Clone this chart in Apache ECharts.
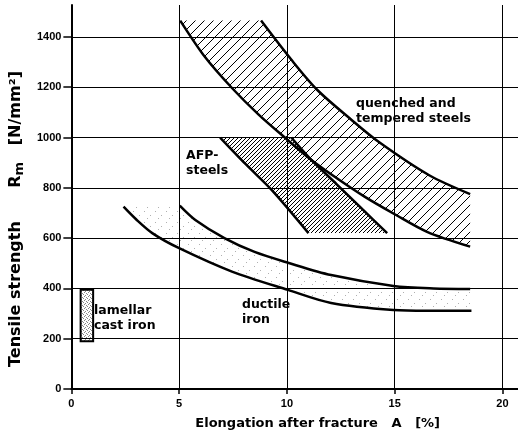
<!DOCTYPE html>
<html>
<head>
<meta charset="utf-8">
<script src="https://cdn.jsdelivr.net/npm/echarts@6/dist/echarts.min.js"></script>
<style>
    html, body { margin: 0; padding: 0; background: #fff; }
    #chart { width: 518px; height: 442px; }
</style>
</head>
<body>
<div id="chart"></div>
<script>
    // axis ticks and grid lines
    const xTicks = [0, 5, 10, 15, 20]
    const yTicks = [0, 200, 400, 600, 800, 1000, 1200, 1400]
    const xGrid = [5, 10, 15, 20]
    const yGrid = [200, 400, 600, 800, 1000, 1200, 1400]

    // quenched and tempered steels (band)
    const qtLower = [[5.05, 1465], [6.2, 1320], [7.45, 1197], [8.7, 1090], [9.9, 1000], [11.0, 920],
        [12.2, 845], [13.6, 765], [15.0, 695], [16.5, 625], [18.5, 566]]
    const qtUpper = [[8.8, 1465], [10.2, 1310], [11.4, 1190], [13.0, 1070], [14.3, 980], [16.6, 850], [18.5, 775]]

    // AFP steels (band)
    const afpLeft = [[6.9, 1000], [8.1, 893], [9.3, 791], [11.0, 620]]
    const afpRight = [[10.2, 1000], [11.2, 905], [12.3, 815], [13.5, 715], [14.65, 620]]

    // ductile iron (band)
    const diLower = [[2.42, 725], [3.0, 675], [3.77, 619], [5.0, 560], [7.45, 467], [10.05, 394],
        [12.05, 342], [14.94, 314], [16.5, 311], [18.56, 311]]
    const diUpper = [[5.03, 729], [5.75, 672], [7.1, 600], [8.5, 545], [10.05, 502], [12.05, 453],
        [14.94, 410], [16.8, 400], [18.5, 398]]

    // lamellar cast iron (box)
    const lamX = [0.43, 1.01]
    const lamY = [190, 395]

    const font = 'Liberation Sans, Arial, Helvetica, sans-serif'
    const wide = 'DejaVu Sans, Verdana, sans-serif'

    function hatch(step, lw) {
        let c = document.createElement('canvas')
        c.width = c.height = step
        let ctx = c.getContext('2d')
        ctx.strokeStyle = '#000'
        ctx.lineWidth = lw
        ctx.beginPath()
        ctx.moveTo(0, step); ctx.lineTo(step, 0)
        ctx.moveTo(-1, 1); ctx.lineTo(1, -1)
        ctx.moveTo(step - 1, step + 1); ctx.lineTo(step + 1, step - 1)
        ctx.stroke()
        return {image: c, repeat: 'repeat'}
    }

    function stipple(size, dots, color) {
        let c = document.createElement('canvas')
        c.width = c.height = size
        let ctx = c.getContext('2d')
        ctx.fillStyle = color
        dots.forEach(d => ctx.fillRect(d[0], d[1], 1, 1))
        return {image: c, repeat: 'repeat'}
    }

    function polySeries(name, points, fill) {
        return {
            name: name,
            type: 'custom',
            silent: true,
            z: 1,
            data: [[0, 0]],
            renderItem: (params, api) => ({
                type: 'polygon',
                shape: {points: points.map(p => api.coord(p))},
                style: {fill: fill, stroke: null}
            })
        }
    }

    function lineSeries(name, data) {
        return {
            name: name,
            type: 'line',
            data: data,
            showSymbol: false,
            smooth: 0.3,
            silent: true,
            z: 3,
            lineStyle: {color: '#000', width: 2.5},
        }
    }

    let chart = echarts.init(document.getElementById('chart'))
    let options = {
        animation: false,
        textStyle: {fontFamily: font},
        grid: {left: 68, right: 0, top: 5, bottom: 53},
        xAxis: {
            type: 'value',
            min: 0,
            max: 20.72,
            interval: 5,
            name: 'Elongation after fracture   A   [%]',
            nameLocation: 'middle',
            nameGap: 28,
            nameTextStyle: {fontSize: 13, fontWeight: 'bold', color: '#000', fontFamily: wide, padding: [0, 0, 0, 46]},
            axisLine: {lineStyle: {color: '#000', width: 2}},
            axisTick: {customValues: xTicks, length: 5, lineStyle: {color: '#000', width: 1.5}},
            axisLabel: {customValues: xTicks, fontSize: 11, fontWeight: 'bold', color: '#000', margin: 9, fontFamily: font},
            splitLine: {show: false}
        },
        yAxis: {
            type: 'value',
            min: 0,
            max: 1527,
            interval: 200,
            name: '{t|Tensile strength      R}{s|m}{t|   [N/mm²]}',
            nameLocation: 'middle',
            nameGap: 44,
            nameTextStyle: {
                color: '#000', padding: [0, 44, 0, 0],
                rich: {
                    t: {fontSize: 16, fontWeight: 'bold', color: '#000', fontFamily: wide},
                    s: {fontSize: 13, fontWeight: 'bold', color: '#000', fontFamily: wide, padding: [7, 0, 0, 0]}
                }
            },
            axisLine: {lineStyle: {color: '#000', width: 2}},
            axisTick: {customValues: yTicks, length: 8, lineStyle: {color: '#000', width: 1.5}},
            axisLabel: {
                customValues: yTicks, fontSize: 11, fontWeight: 'bold', color: '#000', margin: 10, fontFamily: font,
                formatter: (value) => String(value)
            },
            splitLine: {show: false}
        },
        graphic: [
            {type: 'text', left: 356, top: 96, style: {text: 'quenched and\ntempered steels', font: 'bold 12.5px ' + wide, lineHeight: 15, fill: '#000'}},
            {type: 'text', left: 186, top: 148, style: {text: 'AFP-\nsteels', font: 'bold 12.5px ' + wide, lineHeight: 15, fill: '#000'}},
            {type: 'text', left: 242, top: 297, style: {text: 'ductile\niron', font: 'bold 12.5px ' + wide, lineHeight: 15, fill: '#000'}},
            {type: 'text', left: 94, top: 303, style: {text: 'lamellar\ncast iron', font: 'bold 12.5px ' + wide, lineHeight: 15, fill: '#000'}},
        ],
        series: [
            polySeries('quenched and tempered steels', qtLower.concat(qtUpper.slice().reverse()), hatch(9, 1)),
            polySeries('AFP-steels', afpLeft.concat(afpRight.slice().reverse()), hatch(4, 1)),
            polySeries('ductile iron', diLower.concat(diUpper.slice().reverse()),
                stipple(11, [[1, 2], [7, 6], [4, 9]], '#b0b0b0')),
            {
                name: 'lamellar cast iron',
                type: 'custom',
                silent: true,
                z: 2,
                data: [[0, 0]],
                renderItem: (params, api) => {
                    let p0 = api.coord([lamX[0], lamY[1]])
                    let p1 = api.coord([lamX[1], lamY[0]])
                    return {
                        type: 'rect',
                        shape: {x: p0[0], y: p0[1], width: p1[0] - p0[0], height: p1[1] - p0[1]},
                        style: {fill: stipple(4, [[0, 0], [2, 1], [1, 3], [3, 2]], '#888'), stroke: '#000', lineWidth: 2}
                    }
                }
            },
            Object.assign(lineSeries('qt upper', qtUpper), {
                markLine: {
                    silent: true,
                    symbol: 'none',
                    label: {show: false},
                    lineStyle: {color: '#000', width: 1, type: 'solid'},
                    data: yGrid.map(v => ({yAxis: v})).concat(xGrid.map(v => ({xAxis: v})))
                }
            }),
            lineSeries('qt lower', qtLower),
            lineSeries('afp left', afpLeft),
            lineSeries('afp right', afpRight),
            lineSeries('ductile upper', diUpper),
            lineSeries('ductile lower', diLower),
        ]
    }
    chart.setOption(options)
</script>
</body>
</html>
